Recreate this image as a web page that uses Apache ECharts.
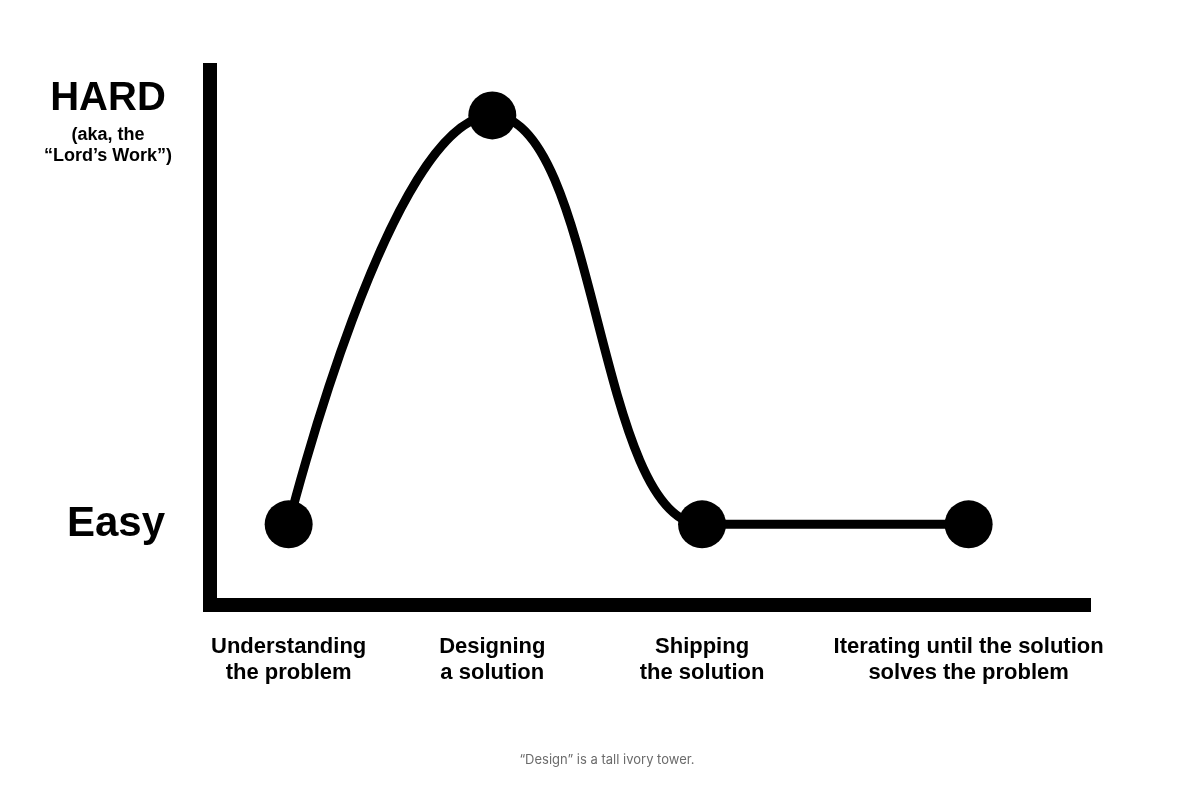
<!DOCTYPE html>
<html>
<head>
<meta charset="utf-8">
<script src="https://cdn.jsdelivr.net/npm/echarts@6/dist/echarts.min.js"></script>
<style>
  html, body { margin: 0; padding: 0; background: #ffffff; }
  #chart { width: 1193px; height: 788px; }
</style>
</head>
<body>
<div id="chart"></div>
<script>
// ---- data ----
const categories = [
  'Understanding\nthe problem',
  'Designing\na solution',
  'Shipping\nthe solution',
  'Iterating until the solution\nsolves the problem'
];
const stepPositions = [0.9, 3.23, 5.63, 8.68];   // position of each step along the x axis (0-10)
const difficulty = [1.5, 9.15, 1.5, 1.5];         // difficulty of each step (0-10)
const hardValue = 9.15;
const easyValue = 1.5;
const hardLabel = ['HARD', '(aka, the', '\u201CLord\u2019s Work\u201D)'];
const easyLabel = 'Easy';
const caption = '\u201CDesign\u201D is a tall ivory tower.';

const seriesData = stepPositions.map((x, i) => [x, difficulty[i]]);

const FONT = '"Liberation Sans", Arial, Helvetica, sans-serif';
const axisLineStyle = { color: '#000', width: 14, cap: 'square' };

const chart = echarts.init(document.getElementById('chart'), null, { renderer: 'canvas' });

chart.setOption({
  animation: false,
  backgroundColor: '#ffffff',
  grid: { left: 210, right: 109, top: 70, bottom: 183.5, containLabel: false, outerBoundsMode: 'none' },
  xAxis: {
    type: 'value', min: 0, max: 10,
    axisLine: { show: true, onZero: false, lineStyle: axisLineStyle },
    axisTick: { show: false },
    splitLine: { show: false },
    axisLabel: {
      customValues: stepPositions,
      margin: 29,
      fontFamily: FONT, fontWeight: 'bold', fontSize: 22, lineHeight: 26, color: '#000',
      formatter: function (v) {
        let best = 0;
        for (let i = 1; i < stepPositions.length; i++) {
          if (Math.abs(stepPositions[i] - v) < Math.abs(stepPositions[best] - v)) best = i;
        }
        return categories[best];
      }
    }
  },
  yAxis: [
    {
      type: 'value', min: 0, max: 10,
      axisLine: { show: true, lineStyle: axisLineStyle },
      axisTick: { show: false },
      splitLine: { show: false },
      axisLabel: {
        customValues: [hardValue],
        margin: 38,
        padding: [9, 0, 0, 0],
        formatter: function () {
          return '{h|' + hardLabel[0] + '}\n{s|' + hardLabel[1] + '}\n{s|' + hardLabel[2] + '}';
        },
        rich: {
          h: { fontFamily: FONT, fontWeight: 'bold', fontSize: 40, lineHeight: 52, color: '#000', align: 'center' },
          s: { fontFamily: FONT, fontWeight: 'bold', fontSize: 18, lineHeight: 21, color: '#000', align: 'center' }
        }
      }
    },
    {
      type: 'value', min: 0, max: 10, position: 'left',
      axisLine: { show: false },
      axisTick: { show: false },
      splitLine: { show: false },
      axisLabel: {
        customValues: [easyValue],
        margin: 45,
        padding: [0, 0, 7, 0],
        fontFamily: FONT, fontWeight: 'bold', fontSize: 42, color: '#000',
        formatter: function () { return easyLabel; }
      }
    }
  ],
  series: [{
    type: 'line',
    data: seriesData,
    smooth: 0.5,
    smoothMonotone: 'x',
    symbol: 'circle',
    symbolSize: 48,
    itemStyle: { color: '#000' },
    lineStyle: { color: '#000', width: 9 },
    z: 3
  }],
  graphic: [{
    type: 'text',
    x: 607, y: 760,
    style: {
      text: caption,
      align: 'center', verticalAlign: 'middle',
      textAlign: 'center', textVerticalAlign: 'middle',
      fontFamily: 'Inter, "Noto Sans", sans-serif',
      fontSize: 13,
      fill: '#6b6b6b'
    }
  }]
});
</script>
</body>
</html>
